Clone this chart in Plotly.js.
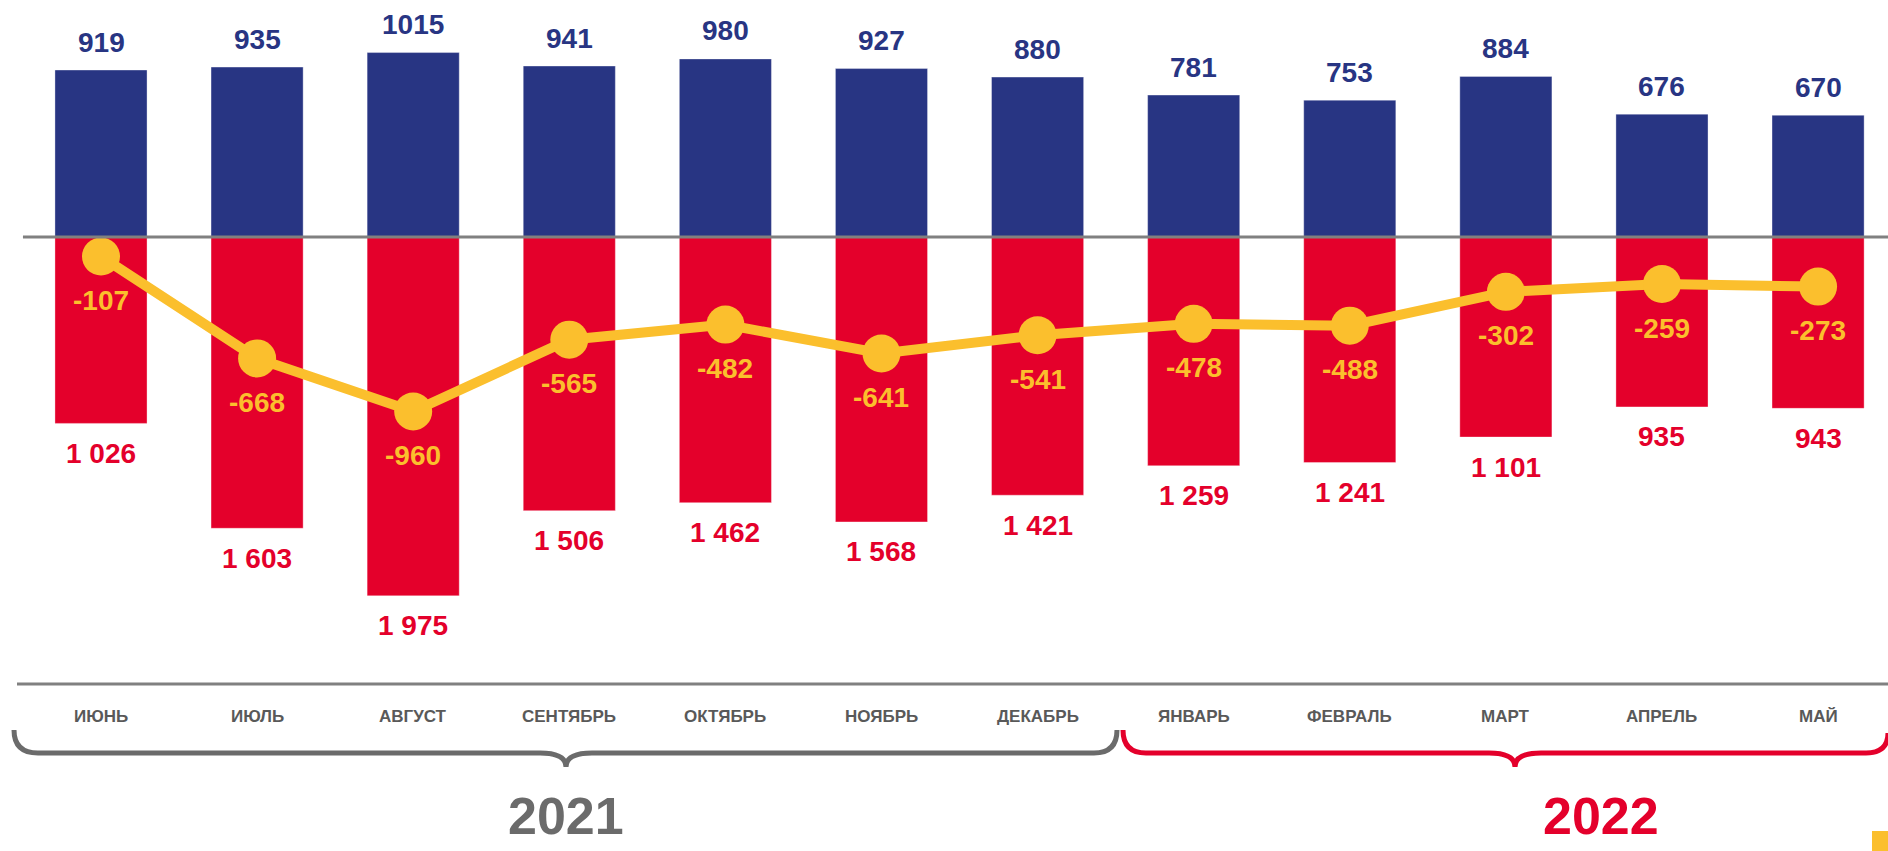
<!DOCTYPE html>
<html>
<head>
<meta charset="utf-8">
<script src="https://cdn.plot.ly/plotly-3.0.1.min.js"></script>
<style>
html,body{margin:0;padding:0;background:#fff;}
#chart{width:1888px;height:851px;}
</style>
</head>
<body>
<div id="chart"></div>
<script>
// ---- data ----
const categories = ['ИЮНЬ','ИЮЛЬ','АВГУСТ','СЕНТЯБРЬ','ОКТЯБРЬ','НОЯБРЬ','ДЕКАБРЬ','ЯНВАРЬ','ФЕВРАЛЬ','МАРТ','АПРЕЛЬ','МАЙ'];
const inflow  = [919, 935, 1015, 941, 980, 927, 880, 781, 753, 884, 676, 670];
const outflow = [1026, 1603, 1975, 1506, 1462, 1568, 1421, 1259, 1241, 1101, 935, 943];
const balance = [-107, -668, -960, -565, -482, -641, -541, -478, -488, -302, -259, -273];
const years = ['2021', '2022'];

// ---- styles ----
const W = 1888, H = 851;
const BLUE = '#283583', RED = '#E4002B', YEL = '#FBBF2D', GRAY = '#808080', TXT = '#595959';
const FONT = 'Liberation Sans, Arial, sans-serif';
const pxX = p => p / W;
const pxY = p => 1 - p / H;

function fmt(v){
  const s = String(Math.abs(v));
  return s.replace(/\B(?=(\d{3})+(?!\d))/g, ' ');
}

const traces = [
  {type:'bar', x:categories, y:inflow, marker:{color:BLUE, line:{color:'rgba(255,255,255,0.35)', width:1}}, width:0.59, hoverinfo:'skip'},
  {type:'bar', x:categories, y:outflow.map(v=>-v), marker:{color:RED, line:{color:'rgba(255,255,255,0.35)', width:1}}, width:0.59, hoverinfo:'skip'},
  {type:'scatter', mode:'lines+markers', x:categories, y:balance,
   line:{color:YEL, width:10}, marker:{color:YEL, size:38}, hoverinfo:'skip'}
];

const annotations = [];
categories.forEach((c,i)=>{
  annotations.push({x:c, y:inflow[i], xref:'x', yref:'y', yshift:28, yanchor:'middle', showarrow:false,
    text:'<b>'+String(inflow[i])+'</b>', font:{family:FONT, size:28, color:BLUE}});
  annotations.push({x:c, y:-outflow[i], xref:'x', yref:'y', yshift:-30, yanchor:'middle', showarrow:false,
    text:'<b>'+fmt(outflow[i])+'</b>', font:{family:FONT, size:28, color:RED}});
  annotations.push({x:c, y:balance[i], xref:'x', yref:'y', yshift:-44, yanchor:'middle', showarrow:false,
    text:'<b>-'+fmt(balance[i])+'</b>', font:{family:FONT, size:28, color:YEL}});
  annotations.push({x:c, y:pxY(716), xref:'x', yref:'paper', yanchor:'middle', showarrow:false,
    text:'<b>'+c+'</b>', font:{family:FONT, size:17, color:TXT}});
});
annotations.push({x:pxX(566), y:pxY(816), xref:'paper', yref:'paper', yanchor:'middle', xanchor:'center', showarrow:false, borderpad:0,
  text:'<b>'+years[0]+'</b>', font:{family:FONT, size:52, color:'#6b6b6b'}});
annotations.push({x:pxX(1601), y:pxY(816), xref:'paper', yref:'paper', yanchor:'middle', xanchor:'center', showarrow:false, borderpad:0,
  text:'<b>'+years[1]+'</b>', font:{family:FONT, size:52, color:RED}});

// convert pixel path to paper path
function pp(cmds){
  return cmds.map(c=>{
    const op = c[0];
    const pts = c.slice(1);
    const out = [];
    for(let k=0;k<pts.length;k+=2){ out.push(pxX(pts[k]).toFixed(5)+','+pxY(pts[k+1]).toFixed(5)); }
    return op+' '+out.join(' ');
  }).join(' ');
}
const by = 753, bt = 767;
const grayBrace = pp([['M',14,730],['Q',14,by,38,by],['L',540,by],['Q',566,by,566,bt],['Q',566,by,592,by],['L',1094,by],['Q',1117,by,1117,730]]);
const redBrace  = pp([['M',1123,730],['Q',1123,by,1146,by],['L',1489,by],['Q',1515,by,1515,bt],['Q',1515,by,1541,by],['L',1866,by],['Q',1888,by,1888,733]]);

const shapes = [
  {type:'line', xref:'x', yref:'y', x0:-0.5, x1:11.6, y0:0, y1:0, line:{color:GRAY, width:3}, layer:'above'},
  {type:'line', xref:'paper', yref:'paper', x0:pxX(17), x1:1, y0:pxY(684), y1:pxY(684), line:{color:GRAY, width:3}},
  {type:'path', xref:'paper', yref:'paper', path:grayBrace, line:{color:'#6b6b6b', width:5}},
  {type:'path', xref:'paper', yref:'paper', path:redBrace, line:{color:RED, width:5}},
  {type:'rect', xref:'paper', yref:'paper', x0:pxX(1872), x1:1, y0:0, y1:pxY(831), fillcolor:YEL, line:{width:0}}
];

const scale = 0.1817; // px per unit
const yMax = 237/scale, yMin = -(H-237)/scale;
const layout = {
  width:W, height:H, margin:{l:0,r:0,t:0,b:0,pad:0},
  paper_bgcolor:'#fff', plot_bgcolor:'#fff',
  barmode:'relative', showlegend:false,
  xaxis:{type:'category', range:[-0.647, 11.448], showgrid:false, zeroline:false, showticklabels:false, showline:false, ticks:''},
  yaxis:{range:[yMin, yMax], showgrid:false, zeroline:false, showticklabels:false, showline:false, ticks:''},
  annotations, shapes
};
Plotly.newPlot('chart', traces, layout, {staticPlot:true, displayModeBar:false});
</script>
</body>
</html>
